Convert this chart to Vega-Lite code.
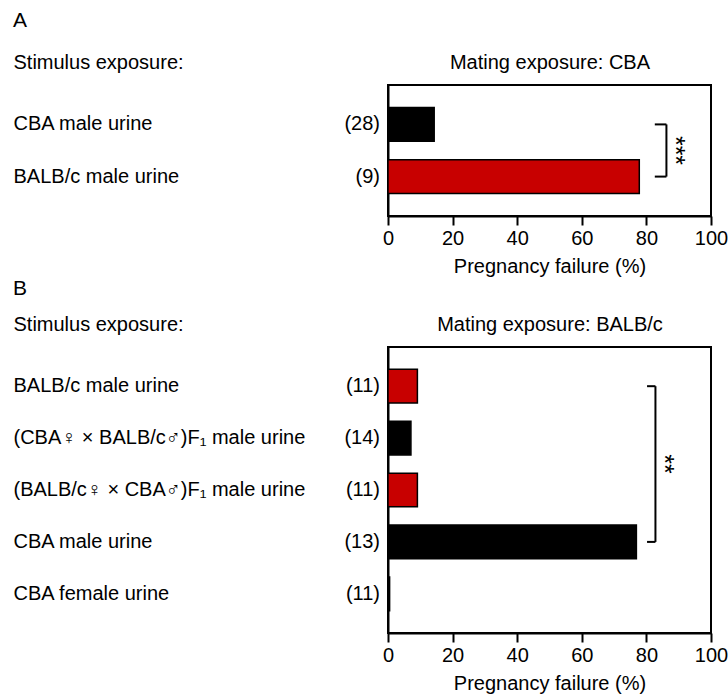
{
  "$schema": "https://vega.github.io/schema/vega-lite/v6.json",
  "padding": {"left": 12, "top": 9, "right": 0, "bottom": 0},
  "background": "white",
  "config": {
    "font": "Liberation Sans",
    "view": {"stroke": "black", "strokeWidth": 2},
    "title": {"fontSize": 21, "fontWeight": "normal", "anchor": "start", "frame": "bounds", "color": "black"},
    "axis": {"grid": false, "domainColor": "black", "domainWidth": 2, "tickColor": "black", "tickWidth": 2, "labelColor": "black", "titleColor": "black", "labelFontSize": 20, "titleFontSize": 20, "titleFontWeight": "normal", "labelFont": "Liberation Sans", "titleFont": "Liberation Sans"},
    "axisX": {"tickSize": 9, "labelPadding": 3, "titlePadding": 8, "labelFlush": false}
  },
  "spacing": 0,
  "vconcat": [
    {
      "title": {"text": "A", "offset": 21},
      "width": 323,
      "height": 131,
      "data": {"values": [
        {"stimulus": "CBA male urine", "failure": 14.3, "n": "(28)", "group": "CBA"},
        {"stimulus": "BALB/c male urine", "failure": 77.8, "n": "(9)", "group": "BALB/c"}
      ]},
      "layer": [
        {
          "mark": {"type": "bar", "stroke": "black", "strokeWidth": 1.5},
          "encoding": {
            "y": {"field": "stimulus", "type": "nominal", "sort": null, "scale": {"domain": ["CBA male urine", "BALB/c male urine"], "paddingInner": 0.35, "paddingOuter": 0.43},
              "axis": {"title": "Stimulus exposure:", "orient": "left", "ticks": false, "labelAlign": "left", "labelPadding": 375, "labelLimit": 400, "titleAngle": 0, "titleAlign": "left", "titleBaseline": "alphabetic", "titleX": -375, "titleY": -17}},
            "x": {"field": "failure", "type": "quantitative", "scale": {"domain": [0, 100]}, "axis": {"orient": "bottom", "title": "Pregnancy failure (%)", "values": [0, 20, 40, 60, 80, 100]}},
            "color": {"field": "group", "type": "nominal", "scale": {"domain": ["CBA", "BALB/c"], "range": ["#000000", "#C80000"]}, "legend": null}
          }
        },
        {
          "mark": {"type": "text", "align": "right", "baseline": "middle", "dx": -8, "fontSize": 20, "color": "black"},
          "encoding": {
            "y": {"field": "stimulus", "type": "nominal"},
            "x": {"datum": 0, "axis": null},
            "text": {"field": "n"}
          }
        },
        {
          "data": {"values": [
            {"x": 82.6, "x2": 86.2, "stimulus": "CBA male urine", "stimulus2": "CBA male urine"},
            {"x": 82.6, "x2": 86.2, "stimulus": "BALB/c male urine", "stimulus2": "BALB/c male urine"},
            {"x": 86.2, "x2": 86.2, "stimulus": "CBA male urine", "stimulus2": "BALB/c male urine"}
          ]},
          "mark": {"type": "rule", "strokeWidth": 2, "color": "black"},
          "encoding": {
            "x": {"field": "x", "type": "quantitative", "axis": {"orient": "top", "title": "Mating exposure: CBA", "labels": false, "ticks": false, "domain": false, "titlePadding": 13}},
            "x2": {"field": "x2"},
            "y": {"field": "stimulus", "type": "nominal", "bandPosition": 0.5},
            "y2": {"field": "stimulus2", "bandPosition": 0.5}
          }
        },
        {
          "data": {"values": [{"x": 89, "stimulus": "CBA male urine", "label": "***"}]},
          "mark": {"type": "text", "angle": 90, "fontSize": 25, "align": "center", "baseline": "middle", "color": "black"},
          "encoding": {
            "x": {"field": "x", "type": "quantitative", "axis": null},
            "y": {"field": "stimulus", "type": "nominal", "bandPosition": 1.269},
            "text": {"field": "label"}
          }
        }
      ],
      "resolve": {"axis": {"x": "independent"}}
    },
    {
      "title": {"text": "B", "offset": 15},
      "width": 323,
      "height": 286,
      "data": {"values": [
        {"stimulus": "BALB/c male urine", "failure": 9.1, "n": "(11)", "group": "BALB/c"},
        {"stimulus": "(CBA♀ × BALB/c♂)F₁ male urine", "failure": 7.1, "n": "(14)", "group": "CBA"},
        {"stimulus": "(BALB/c♀ × CBA♂)F₁ male urine", "failure": 9.1, "n": "(11)", "group": "BALB/c"},
        {"stimulus": "CBA male urine", "failure": 76.9, "n": "(13)", "group": "CBA"},
        {"stimulus": "CBA female urine", "failure": 0.5, "n": "(11)", "group": "CBA"}
      ]},
      "layer": [
        {
          "mark": {"type": "bar", "stroke": "black", "strokeWidth": 1.5},
          "encoding": {
            "y": {"field": "stimulus", "type": "nominal", "sort": null, "scale": {"domain": ["BALB/c male urine", "(CBA♀ × BALB/c♂)F₁ male urine", "(BALB/c♀ × CBA♂)F₁ male urine", "CBA male urine", "CBA female urine"], "paddingInner": 0.35, "paddingOuter": 0.43},
              "axis": {"title": "Stimulus exposure:", "orient": "left", "ticks": false, "labelAlign": "left", "labelPadding": 375, "labelLimit": 400, "titleAngle": 0, "titleAlign": "left", "titleBaseline": "alphabetic", "titleX": -375, "titleY": -17}},
            "x": {"field": "failure", "type": "quantitative", "scale": {"domain": [0, 100]}, "axis": {"orient": "bottom", "title": "Pregnancy failure (%)", "values": [0, 20, 40, 60, 80, 100]}},
            "color": {"field": "group", "type": "nominal", "scale": {"domain": ["CBA", "BALB/c"], "range": ["#000000", "#C80000"]}, "legend": null}
          }
        },
        {
          "mark": {"type": "text", "align": "right", "baseline": "middle", "dx": -8, "fontSize": 20, "color": "black"},
          "encoding": {
            "y": {"field": "stimulus", "type": "nominal"},
            "x": {"datum": 0, "axis": null},
            "text": {"field": "n"}
          }
        },
        {
          "data": {"values": [
            {"x": 80.2, "x2": 82.8, "stimulus": "BALB/c male urine", "stimulus2": "BALB/c male urine"},
            {"x": 80.2, "x2": 82.8, "stimulus": "CBA male urine", "stimulus2": "CBA male urine"},
            {"x": 82.8, "x2": 82.8, "stimulus": "BALB/c male urine", "stimulus2": "CBA male urine"}
          ]},
          "mark": {"type": "rule", "strokeWidth": 2, "color": "black"},
          "encoding": {
            "x": {"field": "x", "type": "quantitative", "axis": {"orient": "top", "title": "Mating exposure: BALB/c", "labels": false, "ticks": false, "domain": false, "titlePadding": 13}},
            "x2": {"field": "x2"},
            "y": {"field": "stimulus", "type": "nominal", "bandPosition": 0.5},
            "y2": {"field": "stimulus2", "bandPosition": 0.5}
          }
        },
        {
          "data": {"values": [{"x": 85.5, "stimulus": "BALB/c male urine", "label": "**"}]},
          "mark": {"type": "text", "angle": 90, "fontSize": 25, "align": "center", "baseline": "middle", "color": "black"},
          "encoding": {
            "x": {"field": "x", "type": "quantitative", "axis": null},
            "y": {"field": "stimulus", "type": "nominal", "bandPosition": 2.808},
            "text": {"field": "label"}
          }
        }
      ],
      "resolve": {"axis": {"x": "independent"}}
    }
  ]
}
